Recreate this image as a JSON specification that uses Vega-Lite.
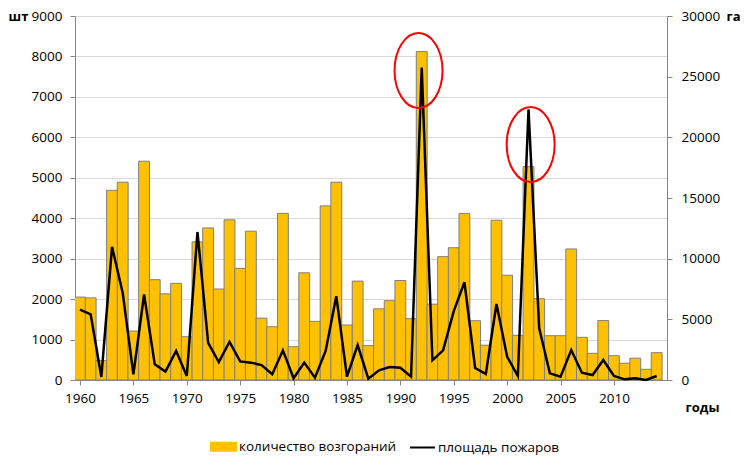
{
  "$schema": "https://vega.github.io/schema/vega-lite/v6.json",
  "width": 592,
  "height": 364,
  "autosize": {"type": "none"},
  "padding": {"left": 75, "top": 16, "right": 77, "bottom": 90},
  "config": {
    "font": "Open Sans",
    "view": {"stroke": null},
    "axis": {
      "labelFont": "Open Sans",
      "labelFontSize": 13.5,
      "labelColor": "#000000",
      "domainColor": "#868686",
      "tickColor": "#868686",
      "tickSize": 5,
      "gridColor": "#D9D9D9",
      "titleFont": "Open Sans",
      "titleFontSize": 13,
      "titleFontWeight": "bold",
      "titleColor": "#000000"
    }
  },
  "datasets": {
    "fires": [
      {"year": 1960, "count": 2050, "area": 5800},
      {"year": 1961, "count": 2030, "area": 5400},
      {"year": 1962, "count": 480, "area": 250},
      {"year": 1963, "count": 4690, "area": 10970},
      {"year": 1964, "count": 4890, "area": 7180},
      {"year": 1965, "count": 1210, "area": 470},
      {"year": 1966, "count": 5410, "area": 7050},
      {"year": 1967, "count": 2480, "area": 1290},
      {"year": 1968, "count": 2130, "area": 690},
      {"year": 1969, "count": 2390, "area": 2390},
      {"year": 1970, "count": 1070, "area": 330},
      {"year": 1971, "count": 3415, "area": 12200},
      {"year": 1972, "count": 3760, "area": 3070},
      {"year": 1973, "count": 2250, "area": 1480},
      {"year": 1974, "count": 3960, "area": 3150},
      {"year": 1975, "count": 2760, "area": 1535},
      {"year": 1976, "count": 3680, "area": 1430},
      {"year": 1977, "count": 1530, "area": 1230},
      {"year": 1978, "count": 1317, "area": 470},
      {"year": 1979, "count": 4120, "area": 2440},
      {"year": 1980, "count": 823, "area": 140},
      {"year": 1981, "count": 2650, "area": 1430},
      {"year": 1982, "count": 1450, "area": 190},
      {"year": 1983, "count": 4305, "area": 2390},
      {"year": 1984, "count": 4890, "area": 6910},
      {"year": 1985, "count": 1360, "area": 270},
      {"year": 1986, "count": 2445, "area": 2880},
      {"year": 1987, "count": 850, "area": 110},
      {"year": 1988, "count": 1760, "area": 800},
      {"year": 1989, "count": 1960, "area": 1070},
      {"year": 1990, "count": 2460, "area": 1010},
      {"year": 1991, "count": 1515, "area": 270},
      {"year": 1992, "count": 8120, "area": 25750},
      {"year": 1993, "count": 1875, "area": 1620},
      {"year": 1994, "count": 3050, "area": 2440},
      {"year": 1995, "count": 3270, "area": 5680},
      {"year": 1996, "count": 4120, "area": 8060},
      {"year": 1997, "count": 1465, "area": 990},
      {"year": 1998, "count": 860, "area": 500},
      {"year": 1999, "count": 3950, "area": 6260},
      {"year": 2000, "count": 2590, "area": 1920},
      {"year": 2001, "count": 1105, "area": 330},
      {"year": 2002, "count": 5275, "area": 22300},
      {"year": 2003, "count": 2010, "area": 4260},
      {"year": 2004, "count": 1095, "area": 550},
      {"year": 2005, "count": 1095, "area": 275},
      {"year": 2006, "count": 3240, "area": 2470},
      {"year": 2007, "count": 1055, "area": 600},
      {"year": 2008, "count": 660, "area": 410},
      {"year": 2009, "count": 1470, "area": 1650},
      {"year": 2010, "count": 600, "area": 330},
      {"year": 2011, "count": 415, "area": 55},
      {"year": 2012, "count": 540, "area": 140},
      {"year": 2013, "count": 265, "area": 0},
      {"year": 2014, "count": 675, "area": 330}
    ],
    "peaks": [
      {"year": 1991.7, "count": 7650},
      {"year": 2002.2, "count": 5820}
    ]
  },
  "layer": [
    {
      "data": {"name": "fires"},
      "mark": {"type": "bar", "width": 10.86, "stroke": "#7F7F7F", "strokeWidth": 1, "clip": true},
      "encoding": {
        "x": {
          "field": "year",
          "type": "quantitative",
          "scale": {"domain": [1960, 2014.5], "nice": false, "zero": false},
          "axis": {
            "values": [1960, 1965, 1970, 1975, 1980, 1985, 1990, 1995, 2000, 2005, 2010],
            "format": "d",
            "grid": false,
            "labelPadding": 6,
            "labelFlush": false,
            "title": "годы",
            "titleAngle": 0,
            "titleX": 627,
            "titleY": 27,
            "titleAlign": "center",
            "titleBaseline": "middle"
          }
        },
        "y": {
          "field": "count",
          "type": "quantitative",
          "scale": {"domain": [0, 9000], "nice": false},
          "axis": {
            "values": [0, 1000, 2000, 3000, 4000, 5000, 6000, 7000, 8000, 9000],
            "format": "d",
            "grid": true,
            "labelPadding": 8,
            "title": "шт",
            "titleAngle": 0,
            "titleX": -57,
            "titleY": 0,
            "titleAlign": "center",
            "titleBaseline": "middle"
          }
        },
        "color": {
          "datum": "количество возгораний",
          "scale": {
            "domain": ["количество возгораний", "площадь пожаров"],
            "range": ["#FFC000", "#000000"]
          },
          "legend": {
            "title": null,
            "orient": "none",
            "direction": "horizontal",
            "legendX": 135,
            "legendY": 417,
            "padding": 0,
            "symbolSize": 625,
            "symbolType": {"expr": "datum.value === 'площадь пожаров' ? 'stroke' : 'M -1 -0.32 H 1 V 0.32 H -1 Z'"},
            "symbolStrokeColor": {"expr": "datum.value === 'площадь пожаров' ? '#000000' : '#7F7F7F'"},
            "symbolStrokeWidth": 2,
            "labelFont": "Open Sans",
            "labelFontSize": 13.5,
            "labelColor": "#000000",
            "labelOffset": 2,
            "columnPadding": 9
          }
        }
      }
    },
    {
      "data": {"name": "fires"},
      "mark": {"type": "line", "strokeWidth": 2.5},
      "encoding": {
        "x": {"field": "year", "type": "quantitative"},
        "y": {
          "field": "area",
          "type": "quantitative",
          "scale": {"domain": [0, 30000], "nice": false},
          "axis": {
            "orient": "right",
            "values": [0, 5000, 10000, 15000, 20000, 25000, 30000],
            "format": "d",
            "grid": false,
            "labelPadding": 9,
            "title": "га",
            "titleAngle": 0,
            "titleX": 66,
            "titleY": 0,
            "titleAlign": "center",
            "titleBaseline": "middle"
          }
        },
        "color": {"datum": "площадь пожаров"}
      }
    },
    {
      "data": {"name": "peaks"},
      "mark": {
        "type": "point",
        "shape": "M 0 -1 A 0.64 1 0 1 1 0 1 A 0.64 1 0 1 1 0 -1 Z",
        "size": 5625,
        "filled": false,
        "color": "#FF0000",
        "strokeWidth": 2,
        "opacity": 1
      },
      "encoding": {
        "x": {"field": "year", "type": "quantitative"},
        "y": {
          "field": "count",
          "type": "quantitative",
          "scale": {"domain": [0, 9000], "nice": false},
          "axis": null
        }
      }
    }
  ],
  "resolve": {"scale": {"y": "independent"}}
}
